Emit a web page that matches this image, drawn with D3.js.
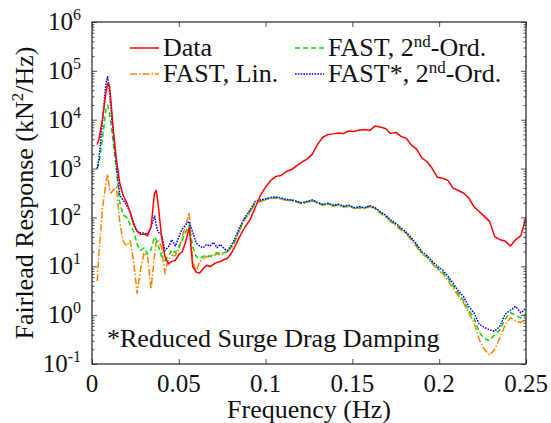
<!DOCTYPE html>
<html>
<head>
<script src="https://cdn.jsdelivr.net/npm/d3@7"></script>
<style>
  @font-face { font-family: 'ChartSerif'; src: local('Liberation Serif'), local('LiberationSerif-Regular'), local('Tinos'); }
</style>
</head>
<body style="margin:0">
<svg width="551" height="423"></svg>
<script>
// frequency (Hz)
const freq = [
  0.003, 0.004, 0.006, 0.008, 0.009, 0.010, 0.011, 0.012, 0.014, 0.016,
  0.018, 0.020, 0.022, 0.024, 0.026, 0.028, 0.030, 0.032, 0.034, 0.036,
  0.037, 0.038, 0.040, 0.042, 0.044, 0.046, 0.048, 0.050, 0.052, 0.054,
  0.056, 0.058, 0.060, 0.062, 0.064, 0.066, 0.068, 0.070, 0.072, 0.074,
  0.076, 0.078, 0.080, 0.082, 0.085, 0.088, 0.091, 0.094, 0.097, 0.100,
  0.103, 0.106, 0.109, 0.112, 0.115, 0.118, 0.121, 0.124, 0.127, 0.130,
  0.133, 0.136, 0.139, 0.142, 0.145, 0.148, 0.151, 0.154, 0.157, 0.160,
  0.163, 0.166, 0.169, 0.172, 0.175, 0.178, 0.181, 0.184, 0.187, 0.190,
  0.193, 0.196, 0.199, 0.202, 0.205, 0.208, 0.211, 0.214, 0.217, 0.220,
  0.223, 0.226, 0.229, 0.232, 0.235, 0.238, 0.241, 0.244, 0.247, 0.250
]

// fairlead response (kN^2/Hz)
const measured = [
  3100, 4000, 10000, 35000, 56000, 52000, 22000, 7900, 1600, 500,
  280, 200, 126, 71, 52, 45, 46, 42, 63, 316,
  355, 200, 42, 16, 11.2, 12.6, 13.2, 17.4, 20, 32,
  63, 10, 7.6, 7.3, 8.9, 10.5, 9.9, 11, 12, 12.5,
  13.8, 14.6, 17.8, 24, 40, 63, 89, 158, 282, 417,
  575, 692, 724, 871, 955, 1150, 1350, 1580, 2000, 3160,
  4370, 5010, 5130, 5370, 5250, 5890, 5750, 6170, 6310, 6030,
  7410, 7080, 6610, 5250, 5500, 4570, 4170, 3020, 2510, 1660,
  1380, 1000, 661, 631, 575, 398, 355, 316, 251, 166,
  132, 105, 83, 40, 35, 33, 26, 35, 42, 100
]

const fastLin = [
  5, 18, 150, 500, 760, 400, 316, 355, 417, 79,
  32, 26, 33, 12.6, 2.8, 8.9, 19, 16, 3.4, 16,
  32, 35, 25, 7.1, 14, 16.6, 16.6, 22, 40, 71,
  126, 12.6, 7.6, 12.6, 14.1, 16, 15, 16.6, 18, 17,
  18.6, 20, 23, 30, 54, 91, 126, 191, 209, 229,
  245, 250, 234, 224, 219, 204, 191, 204, 219, 191,
  178, 186, 170, 178, 162, 170, 151, 158, 151, 166,
  151, 123, 104, 82, 69, 55, 46, 34, 25, 18,
  15, 11.2, 8.7, 7.1, 5.2, 3.5, 2.5, 1.78, 1.12, 0.71,
  0.32, 0.2, 0.15, 0.2, 0.35, 0.63, 0.89, 0.76, 0.71, 0.83
]

const fast2nd = [
  1000, 1260, 4000, 16000, 20000, 14000, 7900, 4000, 1000, 200,
  112, 100, 71, 52, 28, 21, 24, 17.8, 22, 40,
  35, 28, 16, 13.2, 16, 22, 19, 25, 35, 50,
  71, 25, 16, 14.1, 16, 16.6, 16, 17.8, 19, 17.8,
  19, 20, 24, 32, 56, 95, 132, 200, 219, 234,
  251, 257, 240, 229, 224, 209, 195, 209, 224, 195,
  182, 191, 174, 182, 166, 174, 155, 162, 155, 170,
  155, 126, 107, 85, 72, 58, 48, 36, 27, 19,
  15.8, 12, 9.3, 7.6, 5.75, 4.0, 2.8, 2.0, 1.26, 0.89,
  0.45, 0.33, 0.30, 0.40, 0.50, 0.83, 1.12, 1.0, 0.87, 1.07
]

const fastStar2nd = [
  1000, 1580, 8900, 56000, 76000, 40000, 16000, 6300, 1260, 282,
  224, 178, 126, 79, 52, 48, 48, 45, 63, 107,
  71, 50, 45, 21, 25, 35, 26, 40, 58, 71,
  83, 50, 30, 26, 24, 28, 26, 31, 24, 28,
  23, 21, 26, 35, 63, 100, 141, 214, 229, 240,
  257, 263, 251, 234, 229, 214, 200, 214, 229, 200,
  186, 195, 178, 186, 170, 178, 158, 166, 158, 174,
  158, 132, 112, 89, 76, 60, 50, 38, 28, 20,
  16.6, 12.6, 10, 8.3, 6.3, 4.5, 3.16, 2.4, 1.51, 1.12,
  0.66, 0.56, 0.5, 0.47, 0.6, 1.05, 1.26, 1.51, 1.12, 1.38
]

const xTicks = [0, 0.05, 0.1, 0.15, 0.2, 0.25]
const xTickLabels = ['0', '0.05', '0.1', '0.15', '0.2', '0.25']
const yExponents = [-1, 0, 1, 2, 3, 4, 5, 6]

const FONT = "'Times New Roman', 'Liberation Serif', ChartSerif, Tinos, serif"

const svg = d3.select('svg')
const margin = { top: 22, right: 25, bottom: 59, left: 92 }
const width = +svg.attr('width')
const height = +svg.attr('height')
const x0 = margin.left, x1 = width - margin.right
const y0 = height - margin.bottom, y1 = margin.top

const xScale = d3.scaleLinear().domain([0, 0.25]).range([x0, x1])
const yScale = d3.scaleLog().domain([0.1, 1e6]).range([y0, y1])

const majors = yExponents.map(e => Math.pow(10, e))
const minors = yScale.ticks().filter(v => !majors.some(m => Math.abs(v - m) / m < 1e-9))

// series, drawn back to front
const series = [
  { name: 'lin', values: fastLin, color: '#ff8000', dash: '7,2,1.5,2' },
  { name: '2nd', values: fast2nd, color: '#00dd00', dash: '5,3' },
  { name: 'star', values: fastStar2nd, color: '#0000ff', dash: '1.6,1.2' },
  { name: 'data', values: measured, color: '#ff0000', dash: null }
]

const line = d3.line()
  .x((d, i) => xScale(freq[i]))
  .y(d => yScale(d))

svg.append('defs').append('clipPath').attr('id', 'clip')
  .append('rect').attr('x', x0).attr('y', y1).attr('width', x1 - x0).attr('height', y0 - y1)

svg.selectAll('path.series')
  .data(series)
  .join('path')
  .attr('class', 'series')
  .attr('clip-path', 'url(#clip)')
  .attr('fill', 'none')
  .attr('stroke', d => d.color)
  .attr('stroke-width', 1.5)
  .attr('stroke-linejoin', 'round')
  .attr('stroke-dasharray', d => d.dash)
  .attr('d', d => line(d.values))

// axes, ticks pointing inward; labels are written separately
const styleAxis = g => {
  g.select('.domain').remove()
  g.selectAll('text').remove()
  g.selectAll('line').attr('stroke', '#222').attr('stroke-width', 0.8)
}

svg.append('g')
  .attr('transform', `translate(0,${y0})`)
  .call(d3.axisBottom(xScale).tickValues(xTicks).tickSize(-5))
  .call(styleAxis)
svg.append('g')
  .attr('transform', `translate(0,${y1})`)
  .call(d3.axisTop(xScale).tickValues(xTicks).tickSize(-5))
  .call(styleAxis)
svg.append('g')
  .attr('transform', `translate(${x0},0)`)
  .call(d3.axisLeft(yScale).tickValues(majors).tickSize(-5))
  .call(styleAxis)
svg.append('g')
  .attr('transform', `translate(${x0},0)`)
  .call(d3.axisLeft(yScale).tickValues(minors).tickSize(-2.5))
  .call(styleAxis)
svg.append('g')
  .attr('transform', `translate(${x1},0)`)
  .call(d3.axisRight(yScale).tickValues(majors).tickSize(-5))
  .call(styleAxis)
svg.append('g')
  .attr('transform', `translate(${x1},0)`)
  .call(d3.axisRight(yScale).tickValues(minors).tickSize(-2.5))
  .call(styleAxis)

svg.append('rect')
  .attr('x', x0).attr('y', y1)
  .attr('width', x1 - x0).attr('height', y0 - y1)
  .attr('fill', 'none').attr('stroke', '#222').attr('stroke-width', 1.2)

const addText = (x, y, size) => svg.append('text')
  .attr('x', x).attr('y', y)
  .attr('font-family', 'Times New Roman')
  .style('font-family', FONT)
  .attr('font-size', size)
  .attr('fill', '#111')

// x tick labels
xTicks.forEach((v, i) => {
  addText(xScale(v), 392, 25).attr('text-anchor', 'middle').text(xTickLabels[i])
})

// y tick labels 10^n
yExponents.forEach(e => {
  const t = addText(81, yScale(Math.pow(10, e)) + 8, 25).attr('text-anchor', 'end')
  t.append('tspan').text('10')
  t.append('tspan').attr('dy', -10).attr('font-size', 16).text(String(e))
})

// axis titles
addText((x0 + x1) / 2, 418, 26)
  .attr('text-anchor', 'middle')
  .text('Frequency (Hz)')

const yt = addText(0, 0, 26)
  .attr('transform', `translate(33,${(y0 + y1) / 2}) rotate(-90)`)
  .attr('text-anchor', 'middle')
yt.append('tspan').text('Fairlead Response (kN')
yt.append('tspan').attr('dy', -10).attr('font-size', 17).text('2')
yt.append('tspan').attr('dy', 10).text('/Hz)')

// legend
const legendItems = [
  { s: series[3], x: 130, y: 48, label: ['Data'] },
  { s: series[0], x: 130, y: 74, label: ['FAST, Lin.'] },
  { s: series[1], x: 295, y: 48, label: ['FAST, 2', 'nd', '-Ord.'] },
  { s: series[2], x: 295, y: 74, label: ['FAST*, 2', 'nd', '-Ord.'] }
]
legendItems.forEach(it => {
  svg.append('line')
    .attr('x1', it.x).attr('x2', it.x + 29)
    .attr('y1', it.y).attr('y2', it.y)
    .attr('stroke', it.s.color).attr('stroke-width', 1.5)
    .attr('stroke-dasharray', it.s.dash)
  const t = addText(it.x + 33, it.y + 8, 26)
  t.append('tspan').text(it.label[0])
  if (it.label.length > 1) {
    t.append('tspan').attr('dy', -9).attr('font-size', 17).text(it.label[1])
    t.append('tspan').attr('dy', 9).text(it.label[2])
  }
})

addText(107, 347, 26).text('*Reduced Surge Drag Damping')
</script>
</body>
</html>
